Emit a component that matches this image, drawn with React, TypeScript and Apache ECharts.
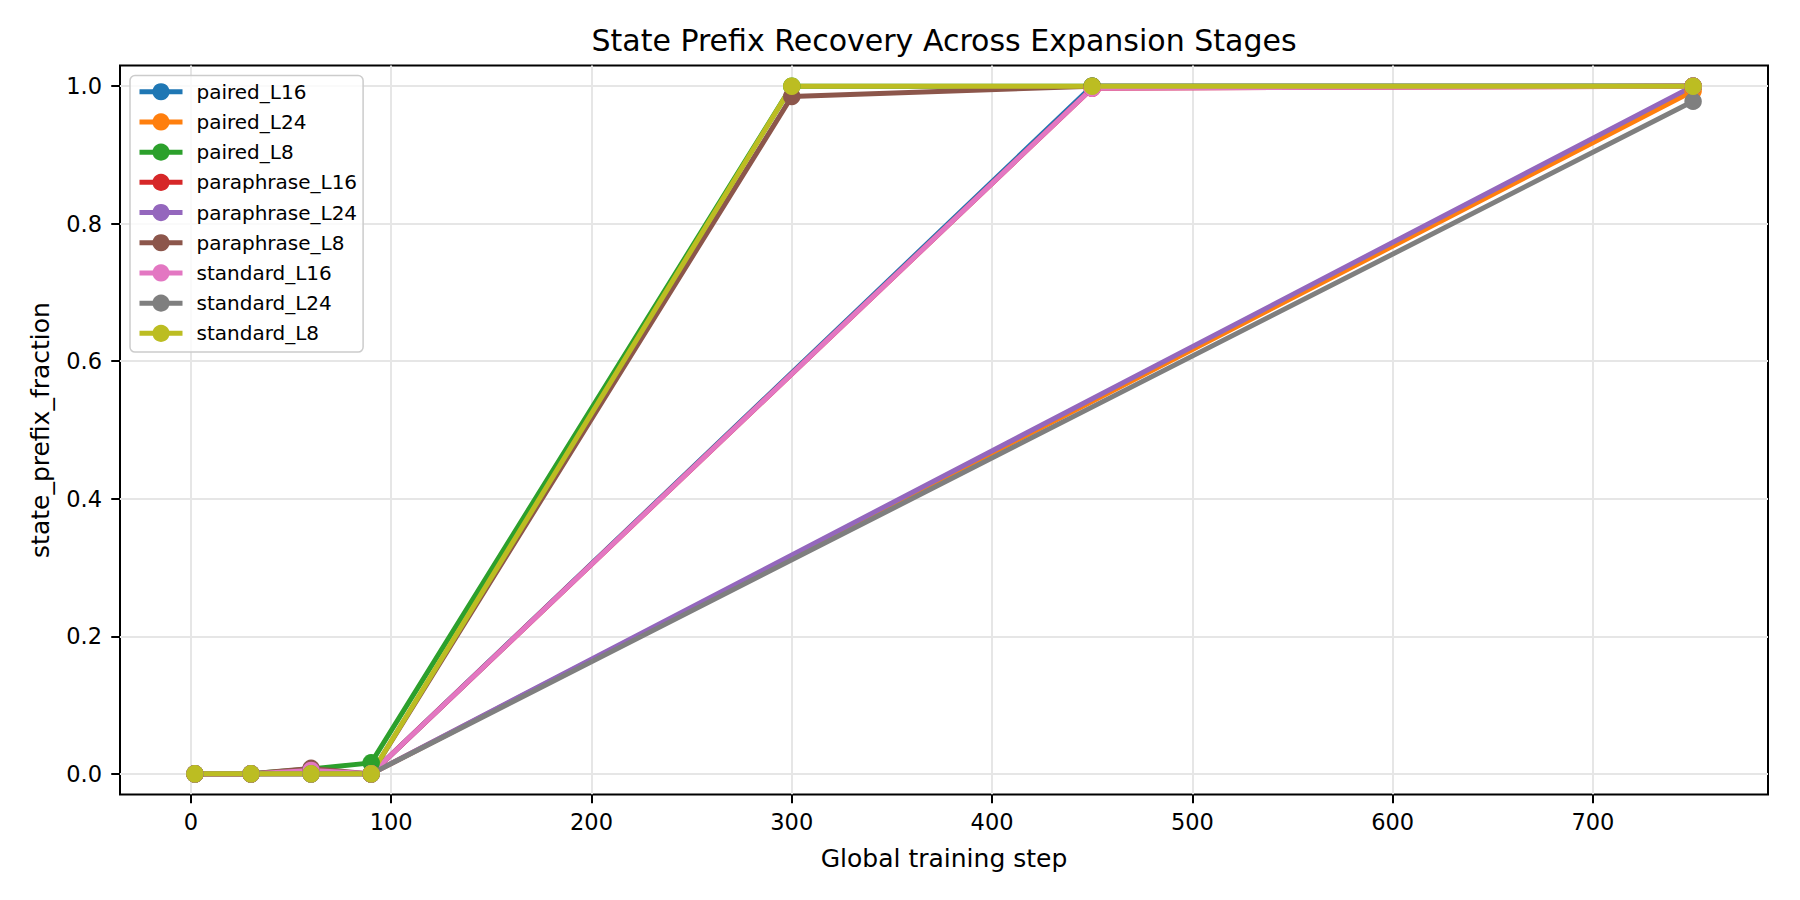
import React, { useEffect, useRef } from "react";
import * as echarts from "echarts";

const TITLE = "State Prefix Recovery Across Expansion Stages";
const X_LABEL = "Global training step";
const Y_LABEL = "state_prefix_fraction";

const STEPS_L8 = [2, 30, 60, 90, 300, 450, 750];
const STEPS_L16 = [2, 30, 60, 90, 450, 750];
const STEPS_L24 = [2, 30, 60, 90, 750];

const PAIRED_L16 = [0, 0, 0, 0, 1.0, 1.0];
const PAIRED_L24 = [0, 0, 0, 0, 0.993];
const PAIRED_L8 = [0, 0, 0.007, 0.016, 1.0, 1.0, 1.0];
const PARAPHRASE_L16 = [0, 0, 0.003, 0, 0.997, 1.0];
const PARAPHRASE_L24 = [0, 0, 0, 0, 1.0];
const PARAPHRASE_L8 = [0, 0, 0.008, 0, 0.985, 1.0, 1.0];
const STANDARD_L16 = [0, 0, 0.005, 0, 0.997, 1.0];
const STANDARD_L24 = [0, 0, 0, 0, 0.978];
const STANDARD_L8 = [0, 0, 0, 0, 1.0, 1.0, 1.0];

const X_TICKS = [0, 100, 200, 300, 400, 500, 600, 700];
const Y_TICKS = [0, 0.2, 0.4, 0.6, 0.8, 1.0];

const SERIES = [
  { name: "paired_L16", x: STEPS_L16, y: PAIRED_L16, color: "#1f77b4" },
  { name: "paired_L24", x: STEPS_L24, y: PAIRED_L24, color: "#ff7f0e" },
  { name: "paired_L8", x: STEPS_L8, y: PAIRED_L8, color: "#2ca02c" },
  { name: "paraphrase_L16", x: STEPS_L16, y: PARAPHRASE_L16, color: "#d62728" },
  { name: "paraphrase_L24", x: STEPS_L24, y: PARAPHRASE_L24, color: "#9467bd" },
  { name: "paraphrase_L8", x: STEPS_L8, y: PARAPHRASE_L8, color: "#8c564b" },
  { name: "standard_L16", x: STEPS_L16, y: STANDARD_L16, color: "#e377c2" },
  { name: "standard_L24", x: STEPS_L24, y: STANDARD_L24, color: "#7f7f7f" },
  { name: "standard_L8", x: STEPS_L8, y: STANDARD_L8, color: "#bcbd22" },
];

const FONT = "DejaVu Sans";

export default function App() {
  const ref = useRef<HTMLDivElement>(null);
  useEffect(() => {
    if (!ref.current) return;
    const chart = echarts.init(ref.current, null, { renderer: "svg" });
    const gridLeft = 120;
    const gridRight = 32;
    const gridTop = 65.5;
    const gridBottom = 105.5;
    const axisCenterX = (gridLeft + (1800 - gridRight)) / 2;
    const axisCenterY = (gridTop + (900 - gridBottom)) / 2;

    chart.setOption({
      animation: false,
      backgroundColor: "#ffffff",
      textStyle: { fontFamily: FONT },
      grid: {
        left: gridLeft,
        right: gridRight,
        top: gridTop,
        bottom: gridBottom,
        show: true,
        borderColor: "#000000",
        borderWidth: 2,
        backgroundColor: "transparent",
        containLabel: false,
      },
      legend: {
        orient: "vertical",
        left: 130,
        top: 75.5,
        padding: [5.5, 6, 8, 7],
        itemWidth: 43,
        itemHeight: 21.5,
        itemGap: 8.7,
        backgroundColor: "rgba(255,255,255,0.8)",
        borderColor: "#cccccc",
        borderWidth: 1.5,
        borderRadius: 5,
        lineStyle: { width: 5 },
        textStyle: {
          fontFamily: FONT,
          fontSize: 20,
          color: "#000000",
          lineHeight: 21.5,
          padding: [0, 0, 0, 9],
        },
        data: SERIES.map((s) => s.name),
      },
      xAxis: {
        type: "value",
        min: -35.4,
        max: 787.4,
        axisLine: { show: false, onZero: false },
        axisTick: {
          show: true,
          length: 8.75,
          lineStyle: { color: "#000000", width: 2 },
          customValues: X_TICKS,
        },
        axisLabel: {
          customValues: X_TICKS,
          fontFamily: FONT,
          fontSize: 22.5,
          color: "#000000",
          margin: 16,
        },
        splitLine: { show: true, lineStyle: { color: "#e6e6e6", width: 2 } },
      },
      yAxis: {
        type: "value",
        min: -0.03,
        max: 1.03,
        axisLine: { show: false, onZero: false },
        axisTick: {
          show: true,
          length: 8.75,
          lineStyle: { color: "#000000", width: 2 },
          customValues: Y_TICKS,
        },
        axisLabel: {
          customValues: Y_TICKS,
          fontFamily: FONT,
          fontSize: 22.5,
          color: "#000000",
          margin: 18,
          formatter: (v: number) => v.toFixed(1),
        },
        splitLine: { show: true, lineStyle: { color: "#e6e6e6", width: 2 } },
      },
      graphic: [
        {
          type: "text",
          x: axisCenterX,
          y: 40,
          style: {
            text: TITLE,
            font: `30px "${FONT}"`,
            fill: "#000000",
            align: "center",
            verticalAlign: "middle",
          },
        },
        {
          type: "text",
          x: axisCenterX,
          y: 858,
          style: {
            text: X_LABEL,
            font: `25px "${FONT}"`,
            fill: "#000000",
            align: "center",
            verticalAlign: "middle",
          },
        },
        {
          type: "text",
          x: 40,
          y: axisCenterY,
          rotation: Math.PI / 2,
          style: {
            text: Y_LABEL,
            font: `25px "${FONT}"`,
            fill: "#000000",
            align: "center",
            verticalAlign: "middle",
          },
        },
      ],
      series: SERIES.map((s) => ({
        name: s.name,
        type: "line",
        data: s.x.map((xv, i) => [xv, s.y[i]]),
        symbol: "circle",
        symbolSize: 17.5,
        showSymbol: true,
        lineStyle: { color: s.color, width: 5 },
        itemStyle: { color: s.color },
        emphasis: { disabled: true },
        z: 2,
      })),
    });
    return () => chart.dispose();
  }, []);
  return (
    <div
      ref={ref}
      style={{ position: "absolute", left: 0, top: 0, width: 1800, height: 900 }}
    />
  );
}
